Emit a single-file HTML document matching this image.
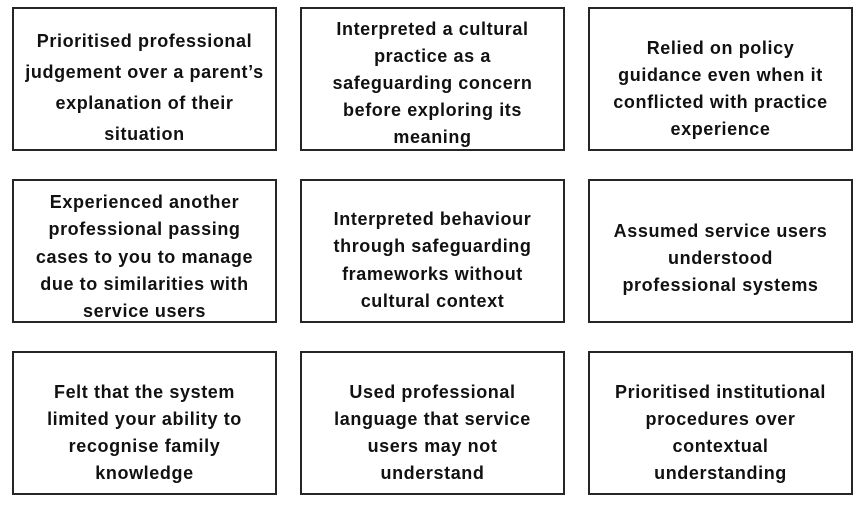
<!DOCTYPE html>
<html><head><meta charset="utf-8"><style>
html,body{margin:0;padding:0;background:#fff;width:862px;height:513px;overflow:hidden}
.b{position:absolute;width:261px;height:140px;border:2px solid #262626;box-sizing:content-box}
.t{position:absolute;left:-10px;right:-10px;text-align:center;font-family:"Liberation Sans",Arial,sans-serif;font-weight:bold;font-size:18px;letter-spacing:0.6px;color:#111;white-space:nowrap}
</style></head><body>
<div class="b" style="left:12px;top:7px"><div class="t" style="top:17px;line-height:31px">Prioritised professional<br>judgement over a parent’s<br>explanation of their<br>situation</div></div>
<div class="b" style="left:300px;top:7px"><div class="t" style="top:7px;line-height:27px">Interpreted a cultural<br>practice as a<br>safeguarding concern<br>before exploring its<br>meaning</div></div>
<div class="b" style="left:588px;top:7px"><div class="t" style="top:26px;line-height:27px">Relied on policy<br>guidance even when it<br>conflicted with practice<br>experience</div></div>
<div class="b" style="left:12px;top:179px"><div class="t" style="top:8px;line-height:27.25px">Experienced another<br>professional passing<br>cases to you to manage<br>due to similarities with<br>service users</div></div>
<div class="b" style="left:300px;top:179px"><div class="t" style="top:25px;line-height:27.3px">Interpreted behaviour<br>through safeguarding<br>frameworks without<br>cultural context</div></div>
<div class="b" style="left:588px;top:179px"><div class="t" style="top:37px;line-height:27px">Assumed service users<br>understood<br>professional systems</div></div>
<div class="b" style="left:12px;top:351px"><div class="t" style="top:26px;line-height:27px">Felt that the system<br>limited your ability to<br>recognise family<br>knowledge</div></div>
<div class="b" style="left:300px;top:351px"><div class="t" style="top:26px;line-height:27px">Used professional<br>language that service<br>users may not<br>understand</div></div>
<div class="b" style="left:588px;top:351px"><div class="t" style="top:26px;line-height:27px">Prioritised institutional<br>procedures over<br>contextual<br>understanding</div></div>
</body></html>
